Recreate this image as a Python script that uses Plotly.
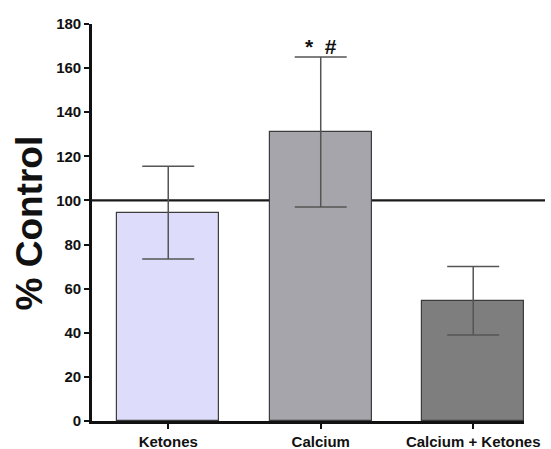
import plotly.graph_objects as go

categories = ["Ketones", "Calcium", "Calcium + Ketones"]
values = [94.5, 131.0, 54.5]
errors = [21.0, 34.0, 15.5]
bar_colors = ["#dddcfa", "#a6a5ab", "#7e7e7e"]
y_ticks = [0, 20, 40, 60, 80, 100, 120, 140, 160, 180]
control_level = 100
sig_marks = ["*", "#"]
sig_value = 170

L, R, T, B = 92, 27, 24, 28
W, H = 551, 449
pw = W - L - R

fig = go.Figure()
fig.add_trace(go.Bar(
    x=list(range(len(categories))), y=values,
    width=0.667,
    marker=dict(color=bar_colors, line=dict(color="#3c3c3c", width=1.2)),
    error_y=dict(type="data", array=errors, visible=True,
                 color="#555555", thickness=1.5, width=26),
))

fig.add_shape(type="line", xref="paper", yref="y",
              x0=0, x1=(545 - L) / pw, y0=control_level, y1=control_level,
              line=dict(color="#1a1a1a", width=2.2), layer="below")

fig.add_annotation(x=1, y=sig_value, xref="x", yref="y",
                   text="<b>" + "&#160;&#160;".join(sig_marks) + "</b>",
                   showarrow=False, yanchor="middle",
                   font=dict(family="Liberation Sans", size=21, color="#111"))

fig.add_annotation(x=(29 - L) / pw, y=0.5, xref="paper", yref="paper",
                   text="<b>% Control</b>", textangle=-90, showarrow=False,
                   xanchor="center", yanchor="middle",
                   font=dict(family="Liberation Sans", size=37, color="#111"))

fig.update_layout(
    width=W, height=H,
    margin=dict(l=L, r=R, t=T, b=B, autoexpand=False),
    paper_bgcolor="white", plot_bgcolor="white",
    showlegend=False,
    bargap=0,
)
fig.update_xaxes(
    range=[-0.5, 2.333], automargin=False,
    tickmode="array", tickvals=list(range(len(categories))),
    ticktext=["<b>" + c + "</b>" for c in categories],
    showline=True, linecolor="#111", linewidth=2.6,
    ticks="outside", ticklen=5, tickwidth=2, tickcolor="#111",
    showgrid=False, zeroline=False,
    tickfont=dict(family="Liberation Sans", size=15, color="#111"),
)
fig.update_yaxes(
    range=[0, 180], automargin=False,
    tickmode="array", tickvals=y_ticks,
    ticktext=["<b>%d</b>" % v for v in y_ticks],
    showline=True, linecolor="#111", linewidth=2.6,
    ticks="outside", ticklen=5, tickwidth=2, tickcolor="#111",
    showgrid=False, zeroline=False,
    tickfont=dict(family="Liberation Sans", size=15, color="#111"),
)

fig.write_html("out.html")
